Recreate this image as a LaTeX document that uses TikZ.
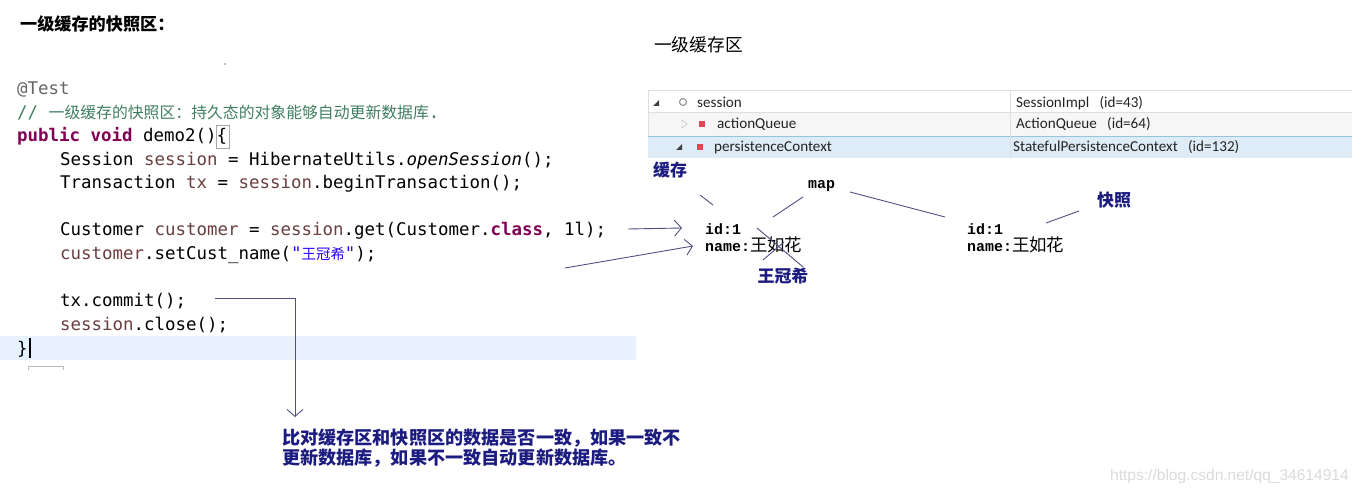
\documentclass[tikz,border=0pt]{standalone}
\usepackage{fontspec}
\usepackage{xcolor}
\usetikzlibrary{arrows.meta, positioning, calc}

\newfontfamily\codefont{DejaVu Sans Mono}
\newfontfamily\cjk{Noto Sans CJK SC}
\newfontfamily\uifont{Carlito}
\newfontfamily\memfont{Liberation Mono}
\newfontfamily\wmfont{Liberation Sans}

\definecolor{kwpurple}{RGB}{127,0,85}
\definecolor{varbrown}{RGB}{106,62,62}
\definecolor{cmtgreen}{RGB}{63,127,95}
\definecolor{anngray}{RGB}{100,100,100}
\definecolor{strblue}{RGB}{42,0,255}
\definecolor{annblue}{RGB}{28,28,128}
\definecolor{pencolor}{RGB}{78,78,128}
\definecolor{hlband}{RGB}{232,242,254}
\definecolor{rowgray}{RGB}{246,246,246}
\definecolor{rowsel}{RGB}{221,236,246}
\definecolor{rowline}{RGB}{150,195,222}
\definecolor{gridgray}{RGB}{222,222,222}
\definecolor{iconred}{RGB}{222,72,82}

\newcommand{\kwd}[1]{{\color{kwpurple}\bfseries #1}}
\newcommand{\lvar}[1]{{\color{varbrown}#1}}
\newcommand{\zhname}[1]{{\cjk\mdseries\fontsize{17.5}{19}\selectfont #1}}

\tikzset{
  codeline/.style={anchor=base west, inner sep=0pt, font=\codefont\fontsize{17.5}{20}\selectfont},
  treetext/.style={anchor=base west, inner sep=0pt, text={rgb,255:red,35;green,35;blue,35}, font=\uifont\fontsize{15.2}{17}\selectfont},
  memtext/.style={anchor=base west, inner sep=0pt, font=\memfont\bfseries\fontsize{15}{17}\selectfont},
  handlabel/.style={inner sep=0pt, text=annblue, font=\cjk\bfseries\fontsize{17}{19}\selectfont},
  pen/.style={draw=pencolor, line width=0.9pt},
  penarrow/.style={pen, -{Straight Barb[length=7pt, width=16pt]}},
}

\begin{document}
\begin{tikzpicture}[x=1bp, y=-1bp]
    \useasboundingbox (0,0) rectangle (1362,493);

    % 标题
    \node[anchor=west, inner sep=0pt, font=\cjk\bfseries\fontsize{17.2}{19}\selectfont] (title) at (20,24) {一级缓存的快照区：};
    \node[anchor=west, inner sep=0pt, font=\cjk\fontsize{17.8}{20}\selectfont] (cachetitle) at (654,45) {一级缓存区};
    \fill[gray] (225,64) circle (0.8);

    % 代码高亮行
    \fill[hlband] (0,336) rectangle (636,360);
    \draw[line width=1.4pt] (30,338) -- (30,358);
    \draw[gray!55] (28,370) -- (28,366) -- (63,366) -- (63,370);
    \draw[gray!70] (216,125) rectangle (229,148);

    % 代码
    \node[codeline, text=anngray] (testann) at (17,95) {@Test};
    \node[codeline, text=cmtgreen] (cmt) at (17,119) {// {\cjk\fontsize{15.9}{18}\selectfont 一级缓存的快照区：持久态的对象能够自动更新数据库}.};
    \node[codeline] (sig) at (17,142) {\kwd{public} \kwd{void} demo2()\{};
    \node[codeline] (sessline) at (60,166) {Session \lvar{session} = HibernateUtils.{\itshape openSession}();};
    \node[codeline] (txline) at (60,189) {Transaction \lvar{tx} = \lvar{session}.beginTransaction();};
    \node[codeline] (getline) at (60,236) {Customer \lvar{customer} = \lvar{session}.get(Customer.\kwd{class}, 1l);};
    \node[codeline] (setline) at (60,260) {\lvar{customer}.setCust\_name({\color{strblue}"{\cjk\fontsize{14.5}{17}\selectfont 王冠希}"});};
    \node[codeline] (commitline) at (60,306) {tx.commit();};
    \node[codeline] (closeline) at (60,330) {\lvar{session}.close();};
    \node[codeline] (endbrace) at (17,354) {\}};

    % 调试变量表
    \fill[rowgray] (648,112) rectangle (1352,136);
    \fill[rowsel] (648,136) rectangle (1352,158);
    \foreach \y in {90, 112} {
        \draw[gridgray] (648,\y) -- (1352,\y);
    }
    \draw[rowline] (648,136) -- (1352,136);
    \draw[gridgray] (648,90) -- (648,136);
    \draw[gridgray] (1010,90) -- (1010,158);

    % 图标
    \fill[black!75] (659,100) -- (659,106) -- (653,106) -- cycle;
    \draw[gray!80, line width=1.2pt] (683,102) circle (3.5);
    \draw[gray!60] (682,120) -- (682,128) -- (687,124) -- cycle;
    \fill[iconred] (699,121) rectangle (705,127);
    \fill[black!75] (682,144) -- (682,150) -- (676,150) -- cycle;
    \fill[iconred] (697,144) rectangle (703,150);

    \node[treetext] (sessname) at (697,108) {session};
    \node[treetext] (sessval) at (1016,108) {SessionImpl\ \ \ (id=43)};
    \node[treetext] (aqname) at (717,129) {actionQueue};
    \node[treetext] (aqval) at (1016,129) {ActionQueue\ \ \ (id=64)};
    \node[treetext] (pcname) at (714,152) {persistenceContext};
    \node[treetext] (pcval) at (1013,152) {StatefulPersistenceContext\ \ \ (id=132)};

    % 缓存和快照
    \node[memtext] (map) at (808,189) {map};
    \node[memtext] (cacheid) at (705,235) {id:1};
    \node[memtext] (cachename) at (705,252) {name:\zhname{王如花}};
    \node[memtext] (snapid) at (967,235) {id:1};
    \node[memtext] (snapname) at (967,252) {name:\zhname{王如花}};

    \node[handlabel] (cachelbl) at (670,170) {缓存};
    \node[handlabel] (snaplbl) at (1114,200) {快照};
    \node[handlabel] (newname) at (783,276) {王冠希};

    % 手绘连线
    \coordinate (cacheA) at (700,195);
    \coordinate (cacheB) at (713,205);
    \coordinate (mapA) at (803,197);
    \coordinate (mapB) at (773,217);
    \coordinate (mapC) at (850,192);
    \coordinate (mapD) at (945,217);
    \coordinate (snapA) at (1079,211);
    \coordinate (snapB) at (1046,223);
    \coordinate (crossA) at (757,228);
    \coordinate (crossB) at (803,267);
    \coordinate (crossC) at (763,260);
    \coordinate (crossD) at (784,242);
    \draw[pen] (cacheA) -- (cacheB);
    \draw[pen] (mapA) -- (mapB);
    \draw[pen] (mapC) -- (mapD);
    \draw[pen] (snapA) -- (snapB);
    \draw[pen] (crossA) -- (crossB);
    \draw[pen] (crossC) -- (crossD);

    % 箭头
    \coordinate (getend) at (628,229);
    \coordinate (cachein) at (682,228);
    \coordinate (setend) at (565,268);
    \coordinate (cachein2) at (693,246);
    \draw[penarrow] (getend) -- (cachein);
    \draw[penarrow] (setend) -- (cachein2);

    % 提交后比对
    \node[anchor=north west, inner sep=0pt, align=left, text=annblue,
          font=\cjk\bfseries\fontsize{18.2}{18}\selectfont] (note) at (282,429)
        {比对缓存区和快照区的数据是否一致，如果一致不\\更新数据库，如果不一致自动更新数据库。};
    \coordinate (commitout) at (215,298);
    \draw[penarrow] (commitout) -| ($(note.north west)+(13,-12)$);

    % 水印
    \node[anchor=base west, inner sep=0pt, text={rgb,255:red,218;green,218;blue,218},
          font=\wmfont\fontsize{15.6}{18}\selectfont] (watermark) at (1110,480) {https://blog.csdn.net/qq\_34614914};
\end{tikzpicture}
\end{document}
